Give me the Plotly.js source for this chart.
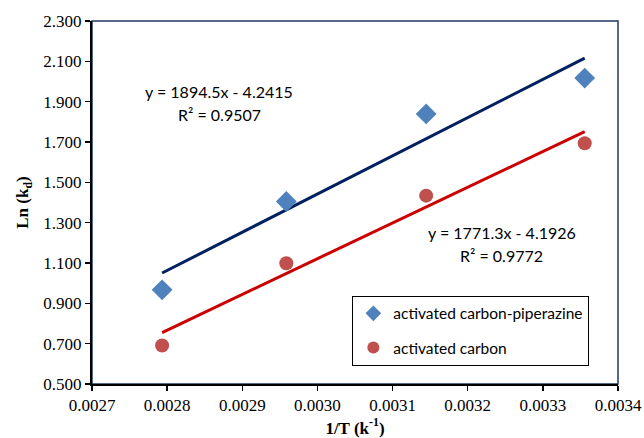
<!DOCTYPE html>
<html>
<head>
<meta charset="utf-8">
<script src="https://cdn.plot.ly/plotly-3.0.1.min.js"></script>
<style>
  html, body { margin: 0; padding: 0; background: #fff; }
  #chart { width: 644px; height: 438px; }
</style>
</head>
<body>
<div id="chart"></div>
<script>
// Reciprocal temperature (1/T) for 358, 338, 318 and 298 K
const invT = [0.0027933, 0.0029586, 0.0031447, 0.0033557];

// Ln(kd) measured for each adsorbent
const lnKdPiperazine = [0.967, 1.405, 1.839, 2.017];
const lnKdCarbon     = [0.691, 1.099, 1.434, 1.694];

// Linear fits: [slope, intercept]
const fitPiperazine = [1894.5, -4.2415];
const fitCarbon     = [1771.3, -4.1926];

const seriesNames = ['activated carbon-piperazine', 'activated carbon'];
const fitLabels = [
  ['y = 1894.5x - 4.2415', 'R² = 0.9507'],
  ['y = 1771.3x - 4.1926', 'R² = 0.9772']
];

const xTicks = [0.0027, 0.0028, 0.0029, 0.0030, 0.0031, 0.0032, 0.0033, 0.0034];
const yTicks = [0.5, 0.7, 0.9, 1.1, 1.3, 1.5, 1.7, 1.9, 2.1, 2.3];

const xEnds = [Math.min(...invT), Math.max(...invT)];
const fitLine = f => xEnds.map(x => f[0] * x + f[1]);

const serif = 'Liberation Serif, Times New Roman, serif';
const sans = 'Lato, Carlito, Open Sans, sans-serif';

const traces = [
  {
    x: xEnds, y: fitLine(fitPiperazine), mode: 'lines', showlegend: false,
    line: { color: '#002060', width: 3 }, hoverinfo: 'skip'
  },
  {
    x: xEnds, y: fitLine(fitCarbon), mode: 'lines', showlegend: false,
    line: { color: '#CC0000', width: 3 }, hoverinfo: 'skip'
  },
  {
    x: invT, y: lnKdPiperazine, mode: 'markers', name: seriesNames[0],
    legendgroup: 'pip',
    marker: { symbol: 'diamond', size: 16, color: '#4F81BD' }
  },
  {
    x: invT, y: lnKdCarbon, mode: 'markers', name: seriesNames[1],
    legendgroup: 'ac',
    marker: { symbol: 'circle', size: 14, color: '#C0504D' }
  }
];

const layout = {
  width: 644, height: 438,
  margin: { l: 92, r: 26, t: 21, b: 54 },
  paper_bgcolor: '#fff', plot_bgcolor: '#fff',
  showlegend: true,
  legend: {
    x: 0.495, y: 0.243, xanchor: 'left', yanchor: 'top',
    bgcolor: '#fff', bordercolor: '#000', borderwidth: 1,
    font: { family: sans, size: 15.5, color: '#000' },
    traceorder: 'grouped', tracegroupgap: 11,
    itemsizing: 'constant', itemwidth: 30
  },
  xaxis: {
    range: [0.0027, 0.0034], tickvals: xTicks,
    ticktext: xTicks.map(v => v.toFixed(4)),
    showgrid: false, zeroline: false,
    showline: true, linecolor: '#000', linewidth: 2,
    ticks: 'outside', ticklen: 5, tickcolor: '#000', tickwidth: 1.5,
    tickfont: { family: serif, size: 17, color: '#000' },
    title: { text: '<b>1/T (k<sup>-1</sup>)</b>', standoff: 6,
             font: { family: serif, size: 17, color: '#000' } }
  },
  yaxis: {
    range: [0.5, 2.3], tickvals: yTicks,
    ticktext: yTicks.map(v => v.toFixed(3)),
    showgrid: false, zeroline: false,
    showline: true, linecolor: '#000', linewidth: 2,
    ticks: 'outside', ticklen: 5, tickcolor: '#000', tickwidth: 1.5,
    tickfont: { family: serif, size: 17, color: '#000' },
    title: { text: '<b>Ln (k<sub>d</sub>)</b>', standoff: 10,
             font: { family: serif, size: 17, color: '#000' } }
  },
  shapes: [
    {
      type: 'rect', xref: 'paper', yref: 'paper', x0: 0, x1: 1, y0: 0, y1: 1,
      line: { color: '#1F3864', width: 1.5 }, layer: 'below'
    }
  ],
  annotations: [
    { text: fitLabels[0][0], x: 0.242, y: 0.806 },
    { text: fitLabels[0][1], x: 0.242, y: 0.743 },
    { text: fitLabels[1][0], x: 0.779, y: 0.416 },
    { text: fitLabels[1][1], x: 0.779, y: 0.354 }
  ].map(a => Object.assign({
    xref: 'paper', yref: 'paper', showarrow: false,
    xanchor: 'center', yanchor: 'middle',
    font: { family: sans, size: 16, color: '#000' }
  }, a))
};

Plotly.newPlot('chart', traces, layout, { displayModeBar: false, staticPlot: true });
</script>
</body>
</html>
